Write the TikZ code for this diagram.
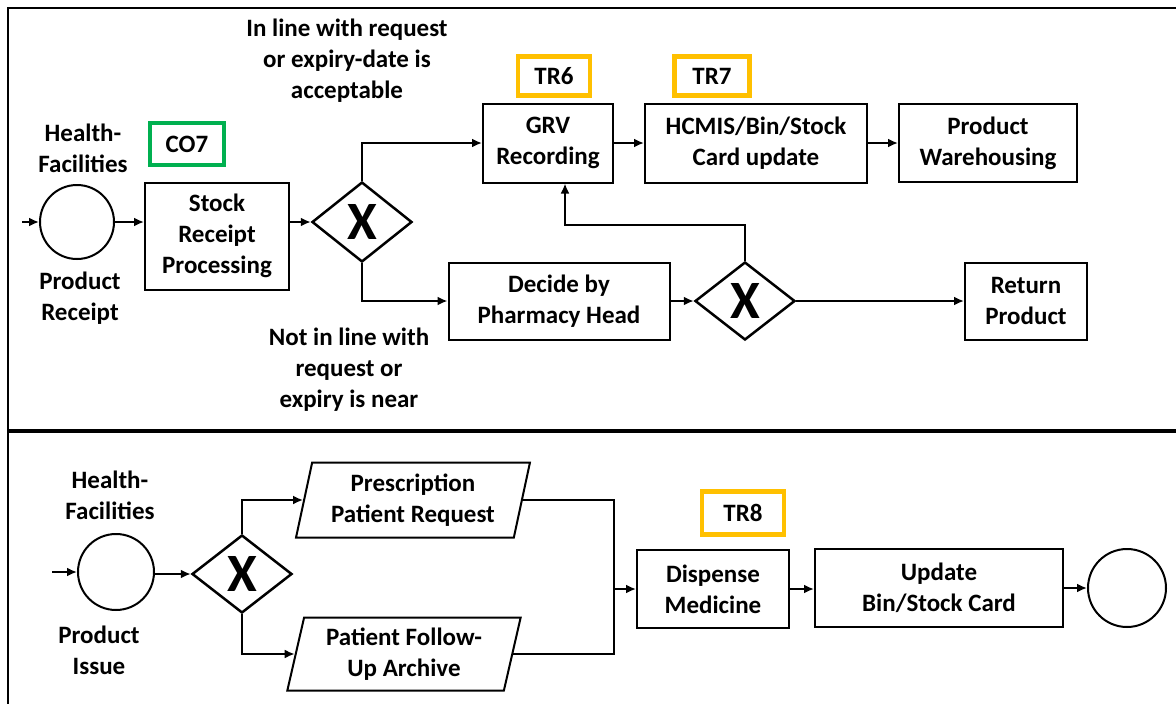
\documentclass[tikz,border=0pt]{standalone}
\usepackage{fontspec}
\setmainfont{Carlito}
\usetikzlibrary{arrows.meta,shapes.geometric}
\definecolor{tagyellow}{RGB}{255,192,0}
\definecolor{taggreen}{RGB}{0,176,80}
\tikzset{
  lbl/.style={align=center,inner sep=0pt,font=\bfseries\fontsize{25}{31}\selectfont},
  task/.style={lbl,draw,line width=2pt},
  tag/.style={lbl,draw,line width=4.5pt},
  event/.style={circle,draw,line width=2pt,minimum size=#1,inner sep=0pt},
  gate/.style={diamond,draw,line width=2.5pt,minimum width=100pt,minimum height=80pt,
    inner sep=0pt,font=\bfseries\fontsize{54}{54}\selectfont},
  datain/.style={lbl,draw,line width=2pt,trapezium,trapezium left angle=76,
    trapezium right angle=104,trapezium stretches=true},
  flow/.style={line width=2pt,-{Latex[length=10pt,width=9pt]}}
}
\begin{document}
\begin{tikzpicture}[x=1pt,y=-1pt]
  \useasboundingbox (0,0) rectangle (1176,704);
  \draw[line width=1.5pt] (8,704) -- (8,8) -- (1176,8);
  \draw[line width=3.5pt] (8,431) -- (1176,431);

  \coordinate (in1) at (22,222);
  \node[event=74pt] (start1) at (77,222) {};
  \node[lbl] (hf1) at (83,148) {Health-\\Facilities};
  \node[lbl] (pr1) at (80,298) {Product\\Receipt};
  \node[tag,taggreen,text=black,minimum width=74pt,minimum height=42pt] (co7) at (187,144) {CO7};
  \node[task,minimum width=144pt,minimum height=107pt] (recv) at (217,236) {Stock\\Receipt\\Processing};
  \node[gate] (g1) at (362,222) {X};
  \node[lbl] (ok) at (347,61) {In line with request\\or expiry-date is\\acceptable};
  \node[lbl] (nok) at (349,370) {Not in line with\\request or\\expiry is near};
  \node[task,minimum width=130pt,minimum height=79pt] (grv) at (548,143) {GRV\\Recording};
  \node[tag,tagyellow,text=black,minimum width=72pt,minimum height=39pt] (tr6) at (554,76) {TR6};
  \node[task,minimum width=222pt,minimum height=79pt] (hcmis) at (756,143) {HCMIS/Bin/Stock\\Card update};
  \node[tag,tagyellow,text=black,minimum width=75pt,minimum height=39pt] (tr7) at (712,76) {TR7};
  \node[task,minimum width=178pt,minimum height=78pt] (ware) at (988,143) {Product\\Warehousing};
  \node[task,minimum width=221pt,minimum height=77pt] (decide) at (559,301) {Decide by\\Pharmacy Head};
  \node[gate,minimum height=78pt] (g2) at (745,301) {X};
  \node[task,minimum width=122pt,minimum height=77pt] (ret) at (1026,301) {Return\\Product};
  \coordinate (back) at (565,225);

  \coordinate (in2) at (52,572);
  \node[event=76pt] (start2) at (116,572) {};
  \node[lbl] (hf2) at (110,495) {Health-\\Facilities};
  \node[lbl] (pi) at (99,650) {Product\\Issue};
  \node[gate,minimum height=78pt] (g3) at (242,574) {X};
  \node[datain,minimum width=234pt,minimum height=75pt] (presc) at (413,500) {Prescription\\Patient Request};
  \node[datain,minimum width=234pt,minimum height=73pt] (follow) at (404,654) {Patient Follow-\\Up Archive};
  \coordinate (join) at (614,589);
  \node[task,minimum width=152pt,minimum height=78pt] (disp) at (713,589) {Dispense\\Medicine};
  \node[tag,tagyellow,text=black,minimum width=82pt,minimum height=43pt] (tr8) at (743,513) {TR8};
  \node[task,minimum width=248pt,minimum height=78pt] (upd) at (939,588) {Update\\Bin/Stock Card};
  \node[event=78pt] (end) at (1127,588) {};

  \begin{scope}[flow]
    \draw (in1) to (start1);
    \draw (start1.east) to (start1.east -| recv.west);
    \draw (g1.west -| recv.east) to (g1.west);
    \draw (g1.north) |- (grv.west);
    \draw (g1.south) |- (decide.west);
    \draw (grv) to (hcmis);
    \draw (hcmis) to (ware);
    \draw (decide) to (g2);
    \draw (g2) to (ret);
    \draw (g2.north) |- (back) -- (back |- grv.south);
    \draw (in2) to (start2);
    \draw (g3.west -| start2.east) to (g3.west);
    \draw (g3.north) |- (presc.west);
    \draw (g3.south) |- (follow.west);
    \draw (join) to (disp);
    \draw (disp.east) to (disp.east -| upd.west);
    \draw (upd.east |- end) to (end);
  \end{scope}
  \draw[line width=2pt] (presc.east) -- (join |- presc.east) -- (join |- follow.east) -- (follow.east);
\end{tikzpicture}
\end{document}
